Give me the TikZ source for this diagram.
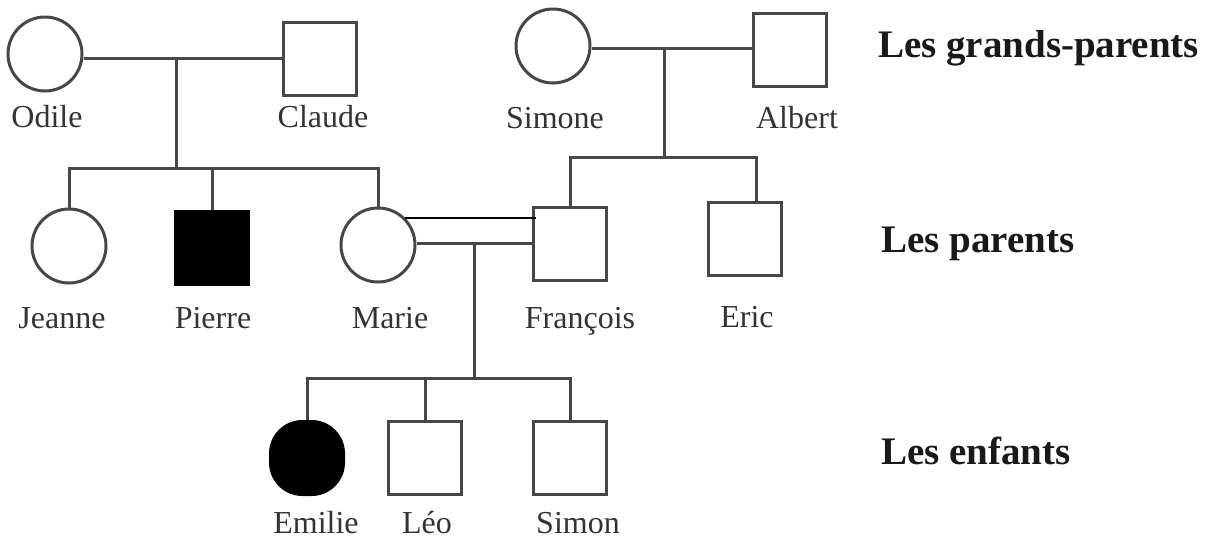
\documentclass[tikz,border=0pt]{standalone}
\usepackage{fontspec}
\setmainfont{Liberation Serif}
\begin{document}
\begin{tikzpicture}[x=0.5pt,y=-0.5pt,
  lin/.style={draw=black!72,line width=1.5pt},
  fem/.style={circle,lin,minimum size=37pt,inner sep=0pt},
  male/.style={rectangle,lin,minimum size=36.5pt,inner sep=0pt},
  aff/.style={fill=black,draw=black},
  nm/.style={anchor=base,font=\fontsize{16}{18}\selectfont,text=black!80},
  gen/.style={anchor=base west,font=\fontsize{19.5}{22}\selectfont\bfseries,text=black!90}]
\useasboundingbox (0,0) rectangle (1209,541);
% grandparents
\node[fem] (odile) at (45,54) {};
\node[male] (claude) at (320,59) {};
\node[fem] (simone) at (553,46) {};
\node[male] (albert) at (790,50) {};
% parents
\node[fem] (jeanne) at (69,246) {};
\node[male,aff] (pierre) at (212,248) {};
\node[fem] (marie) at (378,245) {};
\node[male] (francois) at (570,244) {};
\node[male] (eric) at (745,239) {};
% children
\node[rectangle,rounded corners=16pt,minimum size=36.5pt,inner sep=0pt,fill=black,draw=black,line width=1.5pt] (emilie) at (307,458) {};
\node[male] (leo) at (425,458) {};
\node[male] (simon) at (570,458) {};
% labels
\node[nm] (lodile) at (47,127) {Odile};
\node[nm] (lclaude) at (323,127) {Claude};
\node[nm] (lsimone) at (555,128) {Simone};
\node[nm] (lalbert) at (797,128) {Albert};
\node[nm] (ljeanne) at (62,328) {Jeanne};
\node[nm] (lpierre) at (213,328) {Pierre};
\node[nm] (lmarie) at (390,328) {Marie};
\node[nm] (lfrancois) at (580,328) {François};
\node[nm] (leric) at (747,327) {Eric};
\node[nm] (lemilie) at (316,533) {Emilie};
\node[nm] (lleo) at (427,533) {Léo};
\node[nm] (lsimon) at (578,533) {Simon};
\node[gen] (g1) at (871,57) {Les grands-parents};
\node[gen] (g2) at (874,252) {Les parents};
\node[gen] (g3) at (874,464) {Les enfants};
% family 1
\coordinate (m1) at (176,58);
\coordinate (s1) at (176,168);
\draw[lin] (odile.east|-m1) -- (claude.west|-m1);
\draw[lin] (m1) -- (s1);
\draw[lin] (jeanne.north) |- (marie.north|-s1) -- (marie.north);
\draw[lin] (pierre.north) -- (pierre.north|-s1);
% family 2
\coordinate (m2) at (664,48);
\coordinate (s2) at (664,157);
\draw[lin] (simone.east|-m2) -- (albert.west|-m2);
\draw[lin] (m2) -- (s2);
\draw[lin] (francois.north) |- (s2) -| ([xshift=5.5pt]eric.north);
% family 3
\coordinate (m3) at (474,243);
\coordinate (s3) at (474,378);
\draw[lin] (marie.east|-m3) -- (francois.west|-m3);
\draw[black,line width=0.9pt] (marie.north east) -- ([xshift=2pt]francois.west|-marie.north east);
\draw[lin] (m3) -- (s3);
\draw[lin] (emilie.north) |- (simon.north|-s3) -- (simon.north);
\draw[lin] (leo.north) -- (leo.north|-s3);
\end{tikzpicture}
\end{document}
